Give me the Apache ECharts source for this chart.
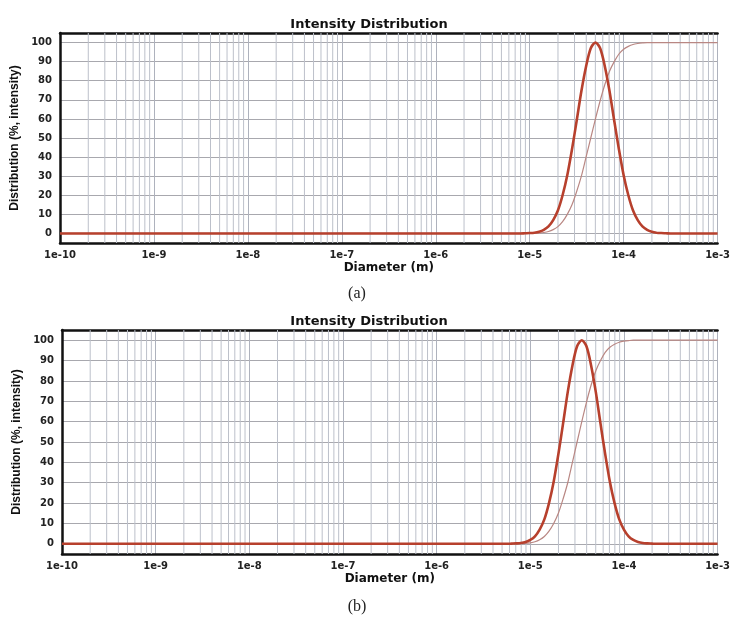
<!DOCTYPE html>
<html>
<head>
<meta charset="utf-8">
<script src="https://cdn.jsdelivr.net/npm/echarts@6.0.0/dist/echarts.min.js"></script>
<style>
html, body { margin: 0; padding: 0; background: #fff; }
#chart { width: 733px; height: 617px; }
</style>
</head>
<body>
<div id="chart"></div>
<script>
// diameters (m) and read-off values, panel (a)
var diamA = [1e-10, 7.943e-6, 8.913e-6, 1.000e-5, 1.122e-5, 1.259e-5, 1.413e-5, 1.585e-5,
    1.778e-5, 1.995e-5, 2.239e-5, 2.512e-5, 2.818e-5, 3.162e-5, 3.548e-5, 3.981e-5, 4.467e-5,
    5.012e-5, 5.623e-5, 6.310e-5, 7.079e-5, 7.943e-5, 8.913e-5, 1.000e-4, 1.122e-4, 1.259e-4,
    1.413e-4, 1.585e-4, 1.778e-4, 1.995e-4, 2.239e-4, 2.512e-4, 2.818e-4, 3.162e-4, 1e-3];
var intensityA = [0, 0, 0.1, 0.2, 0.4, 0.9, 1.9, 3.7, 7, 12, 20, 30.5, 44, 59, 74.5, 87.5, 97, 100,
    97, 87.5, 74.5, 59, 44, 30.5, 20, 12, 7, 3.7, 1.9, 0.9, 0.4, 0.2, 0.1, 0, 0];
var cumulativeA = [0, 0, 0, 0, 0.1, 0.2, 0.5, 1, 2, 3.6, 6.2, 10, 15, 22, 30, 40, 50, 60,
    69.5, 78, 85, 90, 94, 96.5, 98, 99, 99.5, 99.8, 100, 100, 100, 100, 100, 100, 100];

// panel (b)
var diamB = [1e-10, 5.623e-6, 6.310e-6, 7.079e-6, 7.943e-6, 8.913e-6, 1.000e-5, 1.122e-5, 1.259e-5,
    1.413e-5, 1.585e-5, 1.778e-5, 1.995e-5, 2.239e-5, 2.512e-5, 2.818e-5, 3.162e-5, 3.548e-5,
    3.981e-5, 4.467e-5, 5.012e-5, 5.623e-5, 6.310e-5, 7.079e-5, 7.943e-5, 8.913e-5, 1.000e-4,
    1.122e-4, 1.259e-4, 1.413e-4, 1.585e-4, 1.778e-4, 1.995e-4, 2.239e-4, 1e-3];
var intensityB = [0, 0, 0.1, 0.2, 0.4, 0.9, 1.9, 3.7, 7, 12, 20, 30.5, 44, 59, 74.5, 87.5, 97, 100,
    97, 87.5, 74.5, 59, 44, 30.5, 20, 12, 7, 3.7, 1.9, 0.9, 0.4, 0.2, 0.1, 0, 0];
var cumulativeB = [0, 0, 0, 0, 0.1, 0.2, 0.5, 1, 2, 3.6, 6.2, 10, 15, 22, 30, 40, 50, 60,
    69.5, 78, 85, 90, 94, 96.5, 98, 99, 99.5, 99.8, 100, 100, 100, 100, 100, 100, 100];

var decades = [1e-10, 1e-9, 1e-8, 1e-7, 1e-6, 1e-5, 1e-4, 1e-3];
var panelLabels = ['(a)', '(b)'];

var chart = echarts.init(document.getElementById('chart'));

// minor log grid lines (2..9 x each decade), drawn as broken vertical segments
var minorLines = [];
for (var k = 0; k < decades.length - 1; k++) {
    for (var m = 2; m <= 9; m++) {
        var v = m * decades[k];
        minorLines.push([v, -5], [v, 105], [v, '-']);
    }
}

function pairs(xs, ys) {
    return xs.map(function (x, i) { return [x, ys[i]]; });
}

var grids = [
    { left: 60, top: 33, width: 661, height: 210 },
    { left: 62, top: 330, width: 660, height: 224 }
];

var xAxes = [], yAxes = [], series = [];
var lineCol = '#b7402d';
var cumCol = '#b98783';

[[diamA, intensityA, cumulativeA], [diamB, intensityB, cumulativeB]].forEach(function (p, i) {
    xAxes.push({
        type: 'log', gridIndex: i, logBase: 10,
        min: decades[0], max: decades[decades.length - 1], interval: 1,
        name: 'Diameter (m)', nameLocation: 'middle', nameGap: 19,
        nameTextStyle: { fontFamily: 'DejaVu Sans', fontWeight: 'bold', fontSize: 12, color: '#111' },
        axisLine: { onZero: false, lineStyle: { color: '#111', width: 2.5 } },
        axisTick: { show: false },
        axisLabel: {
            margin: 7, fontFamily: 'DejaVu Sans', fontWeight: 'bold', fontSize: 10, color: '#222',
            formatter: function (v) { return '1e' + Math.round(Math.log10(v)); }
        },
        splitLine: { show: true, lineStyle: { color: '#aeb2bd', width: 1 } }
    });
    // top frame line
    xAxes.push({
        type: 'value', gridIndex: i, position: 'top', min: 0, max: 1,
        axisLine: { onZero: false, lineStyle: { color: '#111', width: 2.5 } },
        axisTick: { show: false }, axisLabel: { show: false }, splitLine: { show: false }
    });
    yAxes.push({
        type: 'value', gridIndex: i, min: -5, max: 105, minInterval: 10, maxInterval: 10,
        name: 'Distribution (%, intensity)', nameLocation: 'middle', nameGap: 31,
        nameTextStyle: { fontFamily: 'Liberation Sans', fontWeight: 'bold', fontSize: 12, color: '#111' },
        axisLine: { show: true, onZero: false, lineStyle: { color: '#111', width: 2.5 } },
        axisTick: { show: false },
        axisLabel: {
            margin: 8, showMinLabel: false, showMaxLabel: false,
            fontFamily: 'DejaVu Sans', fontWeight: 'bold', fontSize: 10, color: '#222'
        },
        splitLine: { show: true, lineStyle: { color: '#a8a8ae', width: 1 } }
    });
    series.push({
        type: 'line', xAxisIndex: i * 2, yAxisIndex: i, data: minorLines,
        silent: true, z: 1, showSymbol: false, connectNulls: false,
        lineStyle: { color: '#bcc0ca', width: 1 }
    });
    series.push({
        name: 'Cumulative', type: 'line', xAxisIndex: i * 2, yAxisIndex: i,
        data: pairs(p[0], p[2]), smooth: 0.3, showSymbol: false, z: 3,
        lineStyle: { color: cumCol, width: 1.2 }
    });
    series.push({
        name: 'Intensity', type: 'line', xAxisIndex: i * 2, yAxisIndex: i,
        data: pairs(p[0], p[1]), smooth: 0.3, showSymbol: false, z: 4,
        lineStyle: { color: lineCol, width: 2.6 }
    });
});

var titles = [
    { text: 'Intensity Distribution', left: 364, top: 13, textAlign: 'center' },
    { text: 'Intensity Distribution', left: 364, top: 310, textAlign: 'center' }
].map(function (t) {
    t.textStyle = { fontFamily: 'DejaVu Sans', fontWeight: 'bold', fontSize: 13, color: '#111' };
    return t;
});
titles.push({ text: panelLabels[0], left: 352, top: 281, textAlign: 'center',
    textStyle: { fontFamily: 'Liberation Serif', fontWeight: 'normal', fontSize: 16, color: '#222' } });
titles.push({ text: panelLabels[1], left: 352, top: 594, textAlign: 'center',
    textStyle: { fontFamily: 'Liberation Serif', fontWeight: 'normal', fontSize: 16, color: '#222' } });

chart.setOption({
    animation: false,
    backgroundColor: '#fff',
    title: titles,
    grid: grids,
    xAxis: xAxes,
    yAxis: yAxes,
    series: series
});
</script>
</body>
</html>
